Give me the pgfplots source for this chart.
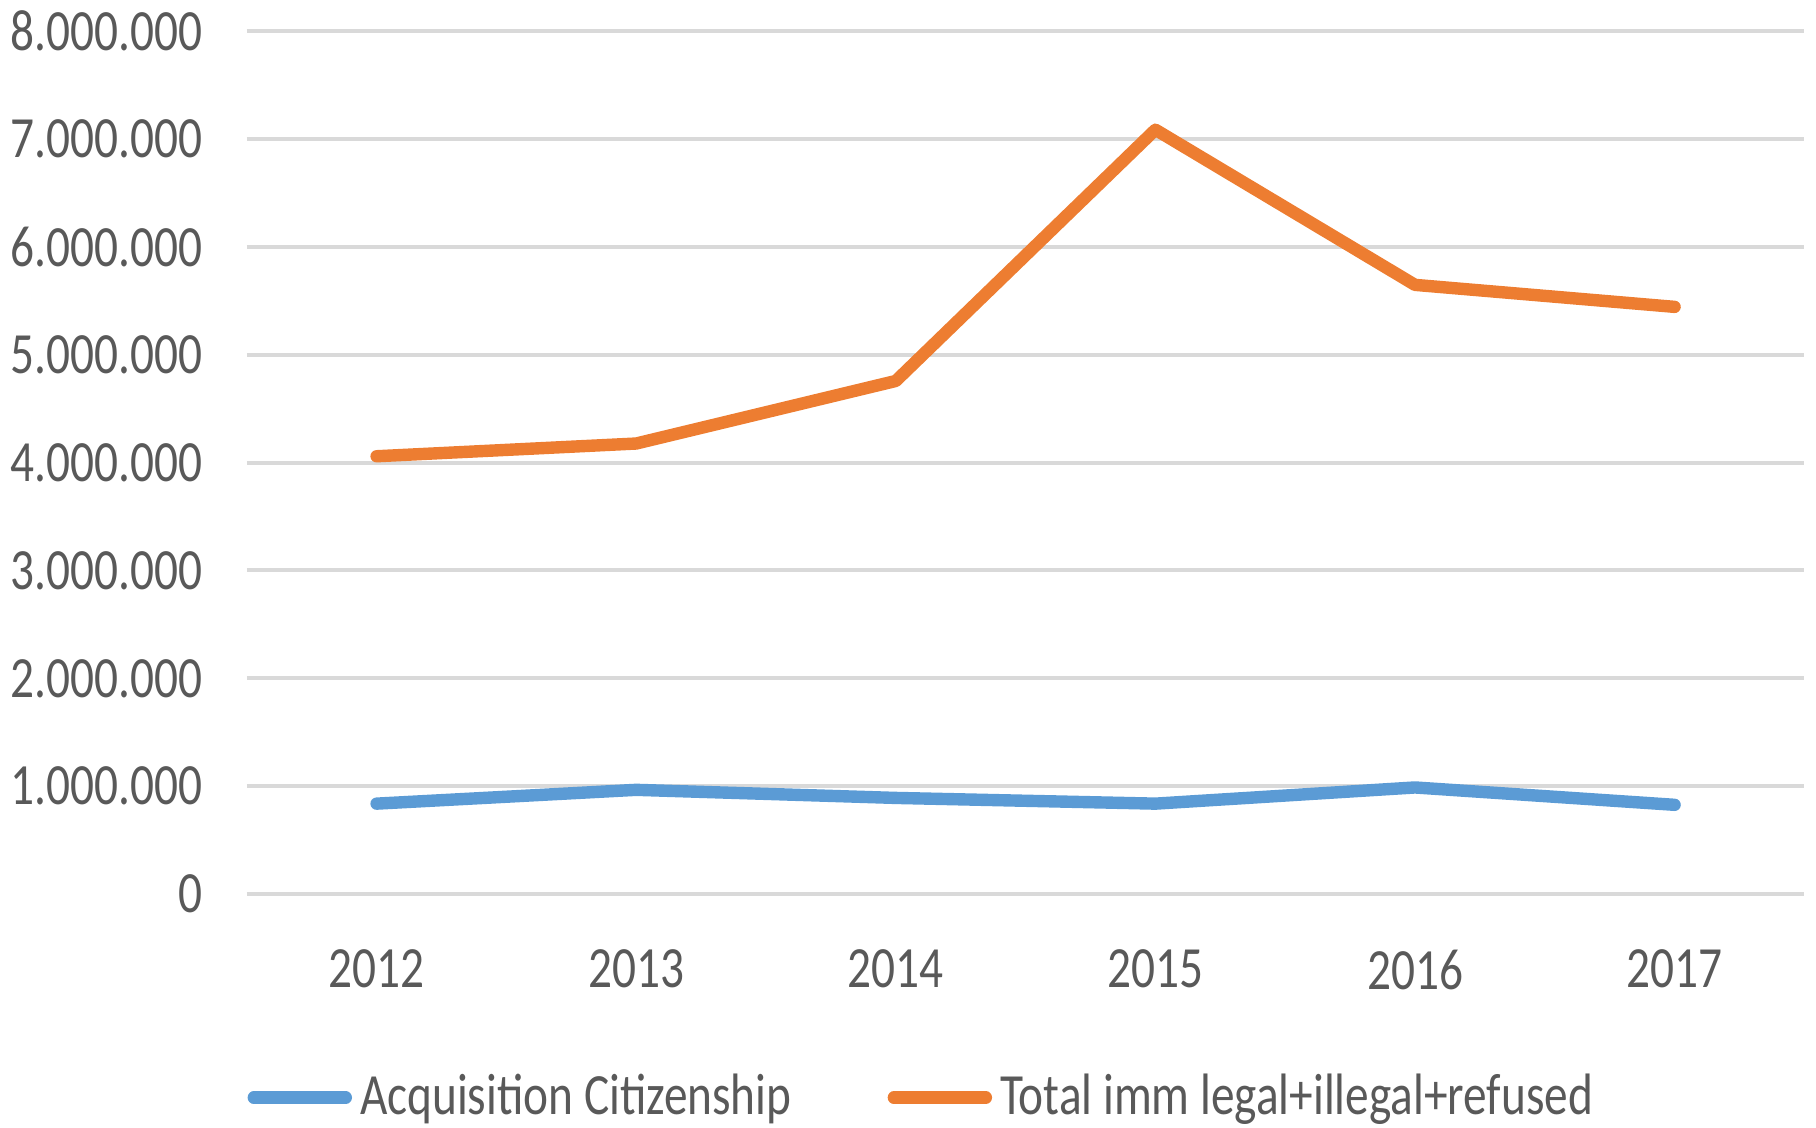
\documentclass[border=0pt]{standalone}
\usepackage{pgfplots}
\pgfplotsset{compat=1.18}
\usepackage{fontspec}
\setmainfont{Carlito}[FakeStretch=0.81]
\definecolor{cblue}{HTML}{5B9BD5}
\definecolor{corange}{HTML}{ED7D31}
\definecolor{gridgray}{HTML}{D9D9D9}
\definecolor{textgray}{HTML}{595959}
\begin{document}
\begin{tikzpicture}
\begin{axis}[
  scale only axis,
  width=389.4pt, height=215.7pt,
  xmin=-0.5, xmax=5.5,
  ymin=0, ymax=8000000,
  xtick={0,1,2,3,4,5},
  xticklabels={2012,2013,2014,2015,2016,2017},
  ytick={0,1000000,2000000,3000000,4000000,5000000,6000000,7000000,8000000},
  yticklabels={0,1.000.000,2.000.000,3.000.000,4.000.000,5.000.000,6.000.000,7.000.000,8.000.000},
  scaled y ticks=false,
  axis line style={draw=none},
  major tick length=0pt,
  ymajorgrids,
  grid style={line width=1pt, color=gridgray},
  tick label style={font=\fontsize{14.6}{17}\selectfont, text=textgray, inner sep=0pt},
  yticklabel style={anchor=east, xshift=-11pt},
  xticklabel style={anchor=north, yshift=-13.7pt},
  legend columns=2,
  legend style={at={(axis description cs:0,-0.236)}, anchor=west, draw=none, fill=none,
    inner sep=0pt, font=\fontsize{14.6}{17}\selectfont, text=textgray,
    /tikz/every even column/.append style={column sep=22pt}},
  legend cell align=left,
  legend image code/.code={\draw[#1, line cap=round] (1.5pt,0pt) -- (24.5pt,0pt);},
  every axis plot/.append style={line width=3.1pt, line cap=round, line join=round},
]
\addplot[color=cblue, mark=none] coordinates {(0,838000) (1,966000) (2,891000) (3,838000) (4,988000) (5,827000)};
\addlegendentry{Acquisition Citizenship}
\addplot[color=corange, mark=none] coordinates {(0,4059000) (1,4177000) (2,4757000) (3,7087000) (4,5648000) (5,5444000)};
\addlegendentry{Total imm legal+illegal+refused}
\coordinate (SW) at (rel axis cs:0,0);
\coordinate (NE) at (rel axis cs:1,1);
\end{axis}
\pgfresetboundingbox
\path[use as bounding box] ([xshift=-61.7pt,yshift=-58.25pt]SW) rectangle ([xshift=2.9pt,yshift=7.8pt]NE);
\end{tikzpicture}
\end{document}
